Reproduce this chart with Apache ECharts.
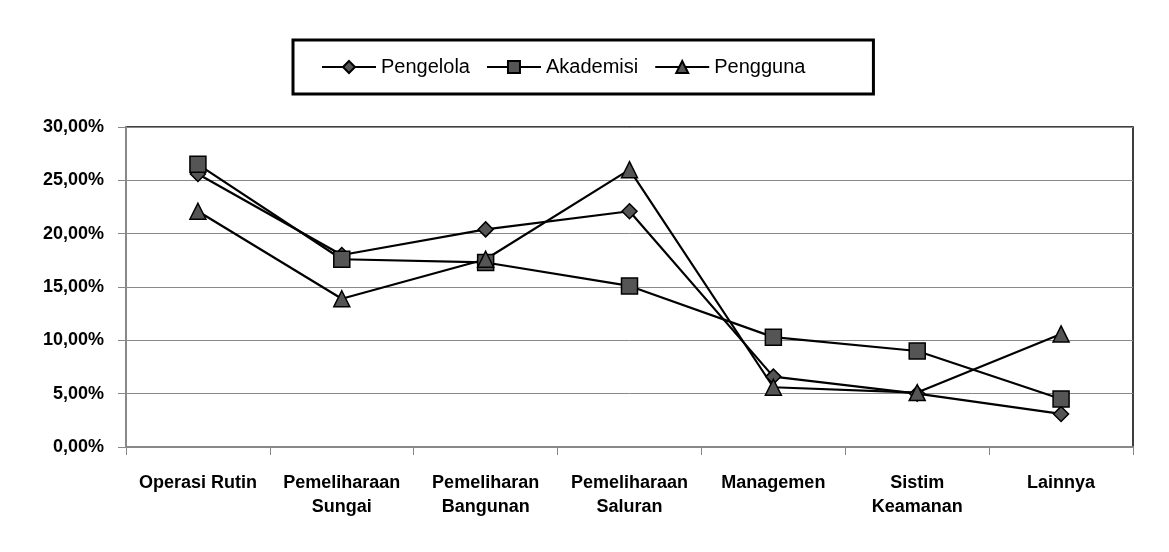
<!DOCTYPE html>
<html>
<head>
<meta charset="UTF-8">
<title>Chart</title>
<script src="https://cdn.jsdelivr.net/npm/echarts@6/dist/echarts.min.js"></script>
</head>
<body style="margin:0;background:#fff">
<div id="charts" style="width:1169px;height:552px;"></div>
<script type="text/javascript">
// kategori dan nilai (persen)
var categories = ['Operasi Rutin', 'Pemeliharaan\nSungai', 'Pemeliharan\nBangunan', 'Pemeliharaan\nSaluran', 'Managemen', 'Sistim\nKeamanan', 'Lainnya'];
var pengelola = [25.6, 18.0, 20.4, 22.1, 6.6, 5.0, 3.1];
var akademisi = [26.5, 17.6, 17.3, 15.1, 10.3, 9.0, 4.5];
var pengguna = [22.1, 13.9, 17.6, 26.0, 5.6, 5.1, 10.6];

var font = '"Liberation Sans Narrow", "Arial Narrow", "Liberation Sans", sans-serif';

function mkSeries(name, data, symbol, size){
	return {
		name: name,
		type: 'line',
		data: data,
		symbol: symbol,
		symbolSize: size,
		lineStyle: {color: '#000', width: 2.2},
		itemStyle: {color: '#555', borderColor: '#000', borderWidth: 1.5},
		emphasis: {disabled: true}
	};
}

var mychart = echarts.init(document.getElementById('charts'));
var option = {
	backgroundColor: '#fff',
	animation: false,
	legend: {
		left: 293,
		top: 40,
		padding: [17, 68, 17, 28],
		itemGap: 16,
		itemWidth: 54,
		itemHeight: 15,
		borderColor: '#000',
		borderWidth: 3,
		textStyle: {fontFamily: font, fontSize: 20, color: '#000'},
		data: ['Pengelola', 'Akademisi', 'Pengguna']
	},
	grid: {
		left: 126, right: 36, top: 127, bottom: 105,
		show: true, borderColor: '#000', borderWidth: 1.5
	},
	xAxis: {
		type: 'category',
		data: categories,
		boundaryGap: true,
		axisLine: {lineStyle: {color: '#888', width: 2}},
		axisTick: {show: true, length: 8, lineStyle: {color: '#888'}},
		axisLabel: {fontFamily: font, fontWeight: 'bold', fontSize: 18, color: '#000', margin: 24, lineHeight: 24, interval: 0}
	},
	yAxis: {
		type: 'value',
		min: 0, max: 30, interval: 5,
		axisLine: {show: true, lineStyle: {color: '#888', width: 2}},
		axisTick: {show: true, inside: false, length: 8, lineStyle: {color: '#888'}},
		splitLine: {lineStyle: {color: '#888', width: 1}},
		axisLabel: {
			fontFamily: font, fontWeight: 'bold', fontSize: 18, color: '#000', margin: 22,
			formatter: function(v){ return v.toFixed(2).replace('.', ',') + '%'; }
		}
	},
	series: [
		mkSeries('Pengelola', pengelola, 'diamond', 15),
		mkSeries('Akademisi', akademisi, 'rect', 16),
		mkSeries('Pengguna', pengguna, 'triangle', 16)
	]
};
mychart.setOption(option);
</script>
</body>
</html>
